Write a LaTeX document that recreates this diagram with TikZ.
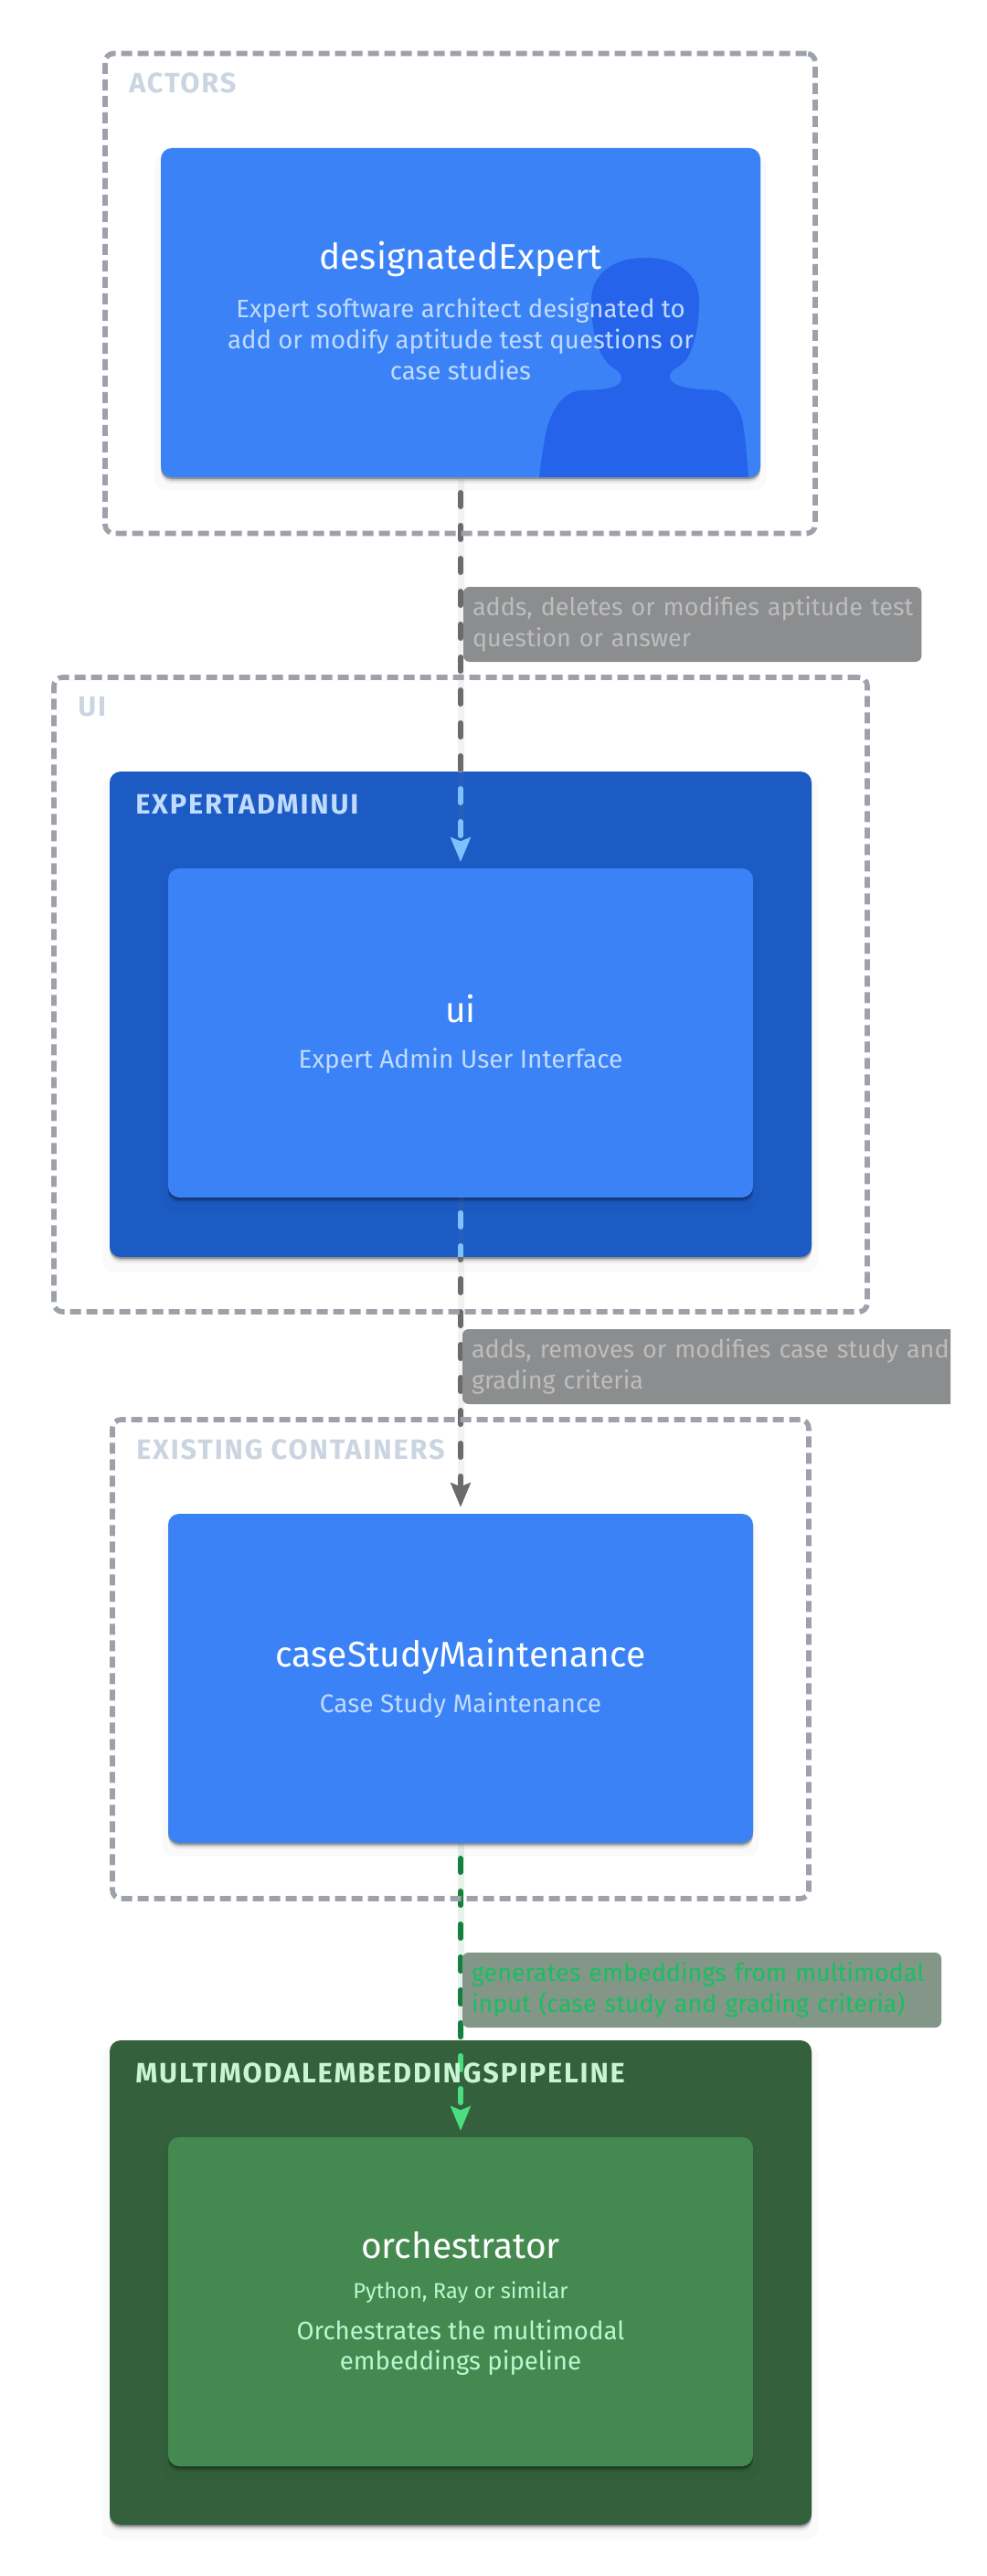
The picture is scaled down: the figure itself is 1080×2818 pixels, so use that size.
\documentclass[tikz,border=0pt]{standalone}
\usepackage{fontspec}
\setmainfont{Fira Sans}
\usetikzlibrary{arrows.meta,shadows,positioning}
\definecolor{cardblue}{HTML}{3B82F6}
\definecolor{groupblue}{HTML}{1C5BC4}
\definecolor{cardgreen}{HTML}{448A50}
\definecolor{groupgreen}{HTML}{34603C}
\definecolor{silh}{HTML}{2563EB}
\definecolor{frameg}{HTML}{9DA1A9}
\definecolor{framelab}{HTML}{CBD5E1}
\definecolor{descblue}{HTML}{BFDBFE}
\definecolor{descgreen}{HTML}{BBF7D0}
\definecolor{labbg}{HTML}{8C8D8F}
\definecolor{labfg}{HTML}{BDBDBD}
\definecolor{labgreenbg}{HTML}{849688}
\definecolor{labgreenfg}{HTML}{16C060}
\definecolor{conngrey}{HTML}{6B6B6B}
\definecolor{connblue}{HTML}{7DC1FF}
\definecolor{conndark}{HTML}{15803D}
\definecolor{connlight}{HTML}{4ADE80}
\definecolor{grouptext}{HTML}{BFDBFE}
\definecolor{grouptextg}{HTML}{C8F5D4}
\tikzset{
  softshadow/.style={
    general shadow={shadow yshift=-8pt,shadow scale=1.02,fill=black,fill opacity=.02},
    general shadow={shadow yshift=-5pt,fill=black,fill opacity=.06},
    general shadow={shadow yshift=-3pt,fill=black,fill opacity=.14},
    general shadow={shadow yshift=-1.5pt,fill=black,fill opacity=.28}},
  boxbase/.style={rectangle,rounded corners=9pt,anchor=north west,inner sep=0pt,outer sep=0pt,softshadow},
  card/.style={boxbase,fill=cardblue,minimum width=480pt,minimum height=270pt},
  gcard/.style={card,fill=cardgreen},
  groupbox/.style={boxbase,minimum width=576pt,fill=groupblue},
  ggroupbox/.style={groupbox,fill=groupgreen},
  framebox/.style={rectangle,anchor=north west,inner sep=0pt,outer sep=0pt,draw=frameg,line width=4.2pt,
     rounded corners=7pt,dash pattern=on 9pt off 4.5pt},
  grouplabel/.style={anchor=base west,inner sep=0pt,font=\bfseries\fontsize{23}{27}\selectfont\addfontfeatures{LetterSpace=6}},
  title/.style={anchor=base,inner sep=0pt,text=white,font=\fontsize{29.2}{34}\selectfont},
  desc/.style={anchor=center,inner sep=0pt,align=center,font=\fontsize{20.7}{25.2}\selectfont},
  descline/.style={anchor=base,inner sep=0pt,font=\fontsize{21}{25.5}\selectfont},
  tech/.style={anchor=base,inner sep=0pt,font=\fontsize{17.8}{21}\selectfont},
  labelbox/.style={anchor=north west,rectangle,rounded corners=5pt,inner sep=0pt,outer sep=0pt,fill=labbg,text=labfg,
     align=left,font=\fontsize{20.2}{26}\selectfont},
  conn/.style={line width=4.5pt,line cap=round,dash pattern=on 11.25pt off 15.75pt,
     shorten <=12.75pt,shorten >=5.25pt,
     -{Stealth[length=20pt,width=16pt,inset=3pt,line cap=butt]}},
  halo/.style={line width=5.25pt,opacity=.1,shorten >=25pt}
}
\begin{document}
\begin{tikzpicture}[x=0.75pt,y=-0.75pt]
\useasboundingbox (0,0) rectangle (1080,2818);
\fill[white] (0,0) rectangle (1080,2818);
\coordinate (pageO) at (0,0);
\coordinate (pageE) at (1080,0);
\coordinate (pageSE) at (1080,2818);

% groups and cards
\node[card,minimum width=492pt] (expert) at (176,162) {};
\begin{scope}
\clip (176,162) rectangle (832,522);
\fill[silh] (590,522) .. controls (594,490) and (597,470) .. (602,458)
  .. controls (610,438) and (622,428) .. (636,427)
  .. controls (660,427) and (682,424) .. (680,413)
  .. controls (679,405) and (670,404) .. (664,396)
  .. controls (650,380) and (647,350) .. (647,329)
  .. controls (647,300) and (670,282) .. (706,282)
  .. controls (742,282) and (765,300) .. (765,329)
  .. controls (765,350) and (762,375) .. (752,392)
  .. controls (745,402) and (731,405) .. (733,413)
  .. controls (735,424) and (760,426) .. (784,427)
  .. controls (798,430) and (808,445) .. (812,458)
  .. controls (815,475) and (817,495) .. (819,522) -- cycle;
\end{scope}

\node[groupbox,minimum height=398.25pt] (adminGroup) at (120,844) {};
\node[card] (ui) at (184,950) {};
\node[card] (caseStudy) at (184,1656) {};
\node[ggroupbox,minimum height=397.5pt] (pipelineGroup) at (120,2232) {};
\node[gcard] (orch) at (184,2338) {};

% connector halos
\draw[halo,gray] (expert.south) -- (ui.north);
\draw[halo,gray] (ui.south) -- (caseStudy.north);
\draw[halo,conndark] (caseStudy.south) -- (orch.north);

% connector 1
\begin{scope}
\clip (pageO) rectangle (pageE |- adminGroup.north);
\draw[conn,conngrey] (expert.south) -- (ui.north);
\end{scope}
\begin{scope}
\clip (adminGroup.north west) rectangle (adminGroup.south east);
\draw[conn,connblue] (expert.south) -- (ui.north);
\end{scope}
% connector 2
\begin{scope}
\clip (adminGroup.north west) rectangle (adminGroup.south east);
\draw[conn,connblue] (ui.south) -- (caseStudy.north);
\end{scope}
\begin{scope}
\clip (pageO |- adminGroup.south) rectangle (pageSE);
\draw[conn,conngrey] (ui.south) -- (caseStudy.north);
\end{scope}
% connector 3
\begin{scope}
\clip (pageO) rectangle (pageE |- pipelineGroup.north);
\draw[conn,conndark] (caseStudy.south) -- (orch.north);
\end{scope}
\begin{scope}
\clip (pipelineGroup.north west) rectangle (pipelineGroup.south east);
\draw[conn,connlight] (caseStudy.south) -- (orch.north);
\end{scope}

% dashed frames
\node[framebox,minimum width=582.75pt,minimum height=393.75pt] (actorsFrame) at (115,58.5) {};
\node[framebox,minimum width=667.5pt,minimum height=520.5pt] (uiFrame) at (59,741) {};
\node[framebox,minimum width=571.5pt,minimum height=393pt] (existingFrame) at (123,1553) {};

% frame and group labels
\node[grouplabel,text=framelab] (actorsLabel) at (141,102) {ACTORS};
\node[grouplabel,text=framelab] (uiLabel) at (85,783) {UI};
\node[grouplabel,text=framelab] (existingLabel) at (149,1596) {EXISTING CONTAINERS};
\node[grouplabel,text=grouptext] (adminLabel) at (148,890) {EXPERTADMINUI};
\node[grouplabel,text=grouptextg] (pipelineLabel) at (148,2278) {MULTIMODALEMBEDDINGSPIPELINE};

% card texts
\node[title] (expertTitle) at (504,295) {designatedExpert};
\node[desc,text=descblue] (expertDesc) at (504,371) {Expert software architect designated to\\add or modify aptitude test questions or\\case studies};
\node[title] (uiTitle) at (504,1118) {ui};
\node[descline,text=descblue] (uiDesc) at (504,1168) {Expert Admin User Interface};
\node[title] (caseTitle) at (504,1823) {caseStudyMaintenance};
\node[descline,text=descblue] (caseDesc) at (504,1873) {Case Study Maintenance};
\node[title] (orchTitle) at (504,2470) {orchestrator};
\node[tech,text=descgreen] (orchTech) at (504,2514) {Python, Ray or similar};
\node[desc,text=descgreen] (orchDesc) at (504,2568) {Orchestrates the multimodal\\embeddings pipeline};

% connector labels
\node[labelbox,minimum width=376pt,minimum height=61.5pt,text width=376pt] (lab1) at (507,642) {\hspace*{7.5pt}adds, deletes or modifies aptitude test\\\hspace*{7.5pt}question or answer};
\begin{scope}
\clip (pageO) rectangle (1040,2818);
\node[labelbox,minimum width=410pt,minimum height=61.5pt,text width=410pt] (lab2) at (506,1454) {\hspace*{7.5pt}adds, removes or modifies case study and\\\hspace*{7.5pt}grading criteria};
\end{scope}
\node[labelbox,fill=labgreenbg,text=labgreenfg,minimum width=393pt,minimum height=61.5pt,text width=393pt] (lab3) at (506,2136) {\hspace*{7.5pt}generates embeddings from multimodal\\\hspace*{7.5pt}input (case study and grading criteria)};
\end{tikzpicture}
\end{document}
